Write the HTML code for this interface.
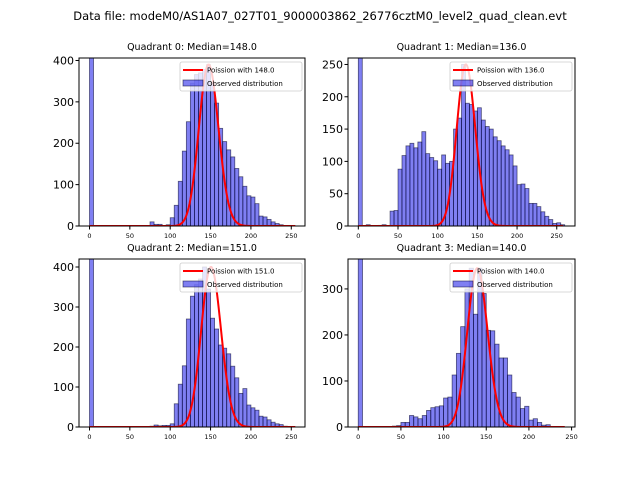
<!DOCTYPE html>
<html><head><meta charset="utf-8"><style>
body{margin:0;background:#fff;}
svg{display:block;font-family:"DejaVu Sans","Liberation Sans",sans-serif;}
</style></head><body>
<svg id="fig" width="640" height="480">
<text x="320" y="20" font-size="11.5" text-anchor="middle">Data file: modeM0/AS1A07_027T01_9000003862_26776cztM0_level2_quad_clean.evt</text>
</svg>
<script>
const binWidth = 5;
const q0Counts = [2000,0,0,0,0,0,0,0,0,0,0,0,0,0,0,10,4,4,0,3,20,50,108,181,252,345,366,370,378,390,345,297,236,204,184,167,139,119,96,73,70,54,24,22,16,10,6,3,1,1];
const q1Counts = [2000,0,2,0,0,1,2,0,23,24,88,109,124,128,121,130,146,112,106,101,88,110,97,100,150,167,250,190,188,178,183,164,154,150,138,132,124,118,110,93,64,65,58,35,35,30,22,15,10,4,5,2];
const q2Counts = [2000,0,0,0,0,0,0,0,0,0,0,0,0,0,0,2,5,3,4,4,8,58,107,153,270,327,356,370,400,345,272,245,205,197,183,152,123,84,96,55,48,42,27,25,18,12,8,6,2,1];
const q3Counts = [2000,0,0,0,0,0,0,0,2,3,10,10,25,22,18,25,36,42,44,46,63,65,113,160,218,300,345,245,345,290,210,209,180,150,150,113,75,65,40,45,15,18,10,4,5,1];
const medians = [148.0,136.0,151.0,140.0];
const poissonPeaks = [390,250,400,345];
const curveMax = [255,258,255,242];
const xLims = [[-13,267],[-13,273],[-13,267],[-12,254]];
const yLims = [406,260,420,365];
const xTicks = [0,50,100,150,200,250];
const yTicks = [[0,100,200,300,400],[0,50,100,150,200,250],[0,100,200,300,400],[0,100,200,300]];
const allCounts = [q0Counts,q1Counts,q2Counts,q3Counts];
const boxes = [[79,58,305,226],[348,58,575,226],[79,259,305,427],[348,259,575,427]];

const NS="http://www.w3.org/2000/svg";
const svg=document.getElementById('fig');
function mk(tag,attrs,parent){const e=document.createElementNS(NS,tag);for(const k in attrs)e.setAttribute(k,attrs[k]);(parent||svg).appendChild(e);return e;}
function lgam(n){let s=0;for(let i=2;i<=n;i++)s+=Math.log(i);return s;}
function logpmf(k,l){return k*Math.log(l)-l-lgam(k);}

for(let q=0;q<4;q++){
  const [L,T,R,B]=boxes[q];
  const [x0,x1]=xLims[q];const ymax=yLims[q];
  const sx=v=>L+(v-x0)/(x1-x0)*(R-L);
  const sy=v=>B-v/ymax*(B-T);
  const g=mk('g',{});
  
  
  const cp=mk('clipPath',{id:'cp'+q},g);mk('rect',{x:L,y:T,width:R-L,height:B-T},cp);
  const t=mk('text',{x:(L+R)/2,y:T-8,'font-size':'9.5','text-anchor':'middle'},g);
  t.textContent='Quadrant '+q+': Median='+medians[q].toFixed(1);
  
  
  const bars=mk('g',{'clip-path':'url(#cp'+q+')'},g);
  allCounts[q].forEach((c,i)=>{
    if(c<=0)return;
    const r=mk('rect',{x:sx(i*binWidth),y:sy(c),width:sx((i+1)*binWidth)-sx(i*binWidth),height:B-sy(c),fill:'rgba(0,0,230,0.5)',stroke:'rgba(0,0,40,0.6)','stroke-width':'0.8'},bars);
    
    
  });
  const lam=medians[q];const ref=logpmf(Math.floor(lam),lam);
  let d='';
  for(let k=0;k<=curveMax[q];k++){const v=poissonPeaks[q]*Math.exp(logpmf(k,lam)-ref);d+=(k?'L':'M')+sx(k).toFixed(2)+','+sy(v).toFixed(2);}
  const p=mk('path',{d:d,fill:'none',stroke:'#ff0000','stroke-width':'2','clip-path':'url(#cp'+q+')'},g);
  
  
  const fr=mk('rect',{x:L,y:T,width:R-L,height:B-T,fill:'none',stroke:'#000','stroke-width':'1'},g);
  
  
  xTicks.forEach(v=>{
    if(v>x1)return;
    mk('line',{x1:sx(v),x2:sx(v),y1:B,y2:B+3.5,stroke:'#000'},g);
    const tl=mk('text',{x:sx(v),y:B+12,'font-size':'6.5','text-anchor':'middle'},g);tl.textContent=v;
    
    
  });
  yTicks[q].forEach(v=>{
    mk('line',{x1:L-3.5,x2:L,y1:sy(v),y2:sy(v),stroke:'#000'},g);
    const tl=mk('text',{x:L-5,y:sy(v)+4,'font-size':'11','text-anchor':'end'},g);tl.textContent=v;
    
    
  });
  const lg=mk('g',{},g);
  
  
  const lx=R-125,ly=T+4;
  mk('rect',{x:lx,y:ly,width:122,height:29,fill:'rgba(255,255,255,0.8)',stroke:'#ccc','stroke-width':'0.8',rx:2},lg);
  mk('line',{x1:lx+3,x2:lx+23,y1:ly+8,y2:ly+8,stroke:'#ff0000','stroke-width':'2'},lg);
  const lt1=mk('text',{x:lx+27,y:ly+10.5,'font-size':'7'},lg);lt1.textContent='Poission with '+medians[q].toFixed(1);
  mk('rect',{x:lx+3,y:ly+18,width:20,height:6,fill:'rgba(0,0,230,0.5)',stroke:'rgba(0,0,40,0.6)','stroke-width':'0.8'},lg);
  const lt2=mk('text',{x:lx+27,y:ly+24,'font-size':'7'},lg);lt2.textContent='Observed distribution';
}
</script>
</body></html>
